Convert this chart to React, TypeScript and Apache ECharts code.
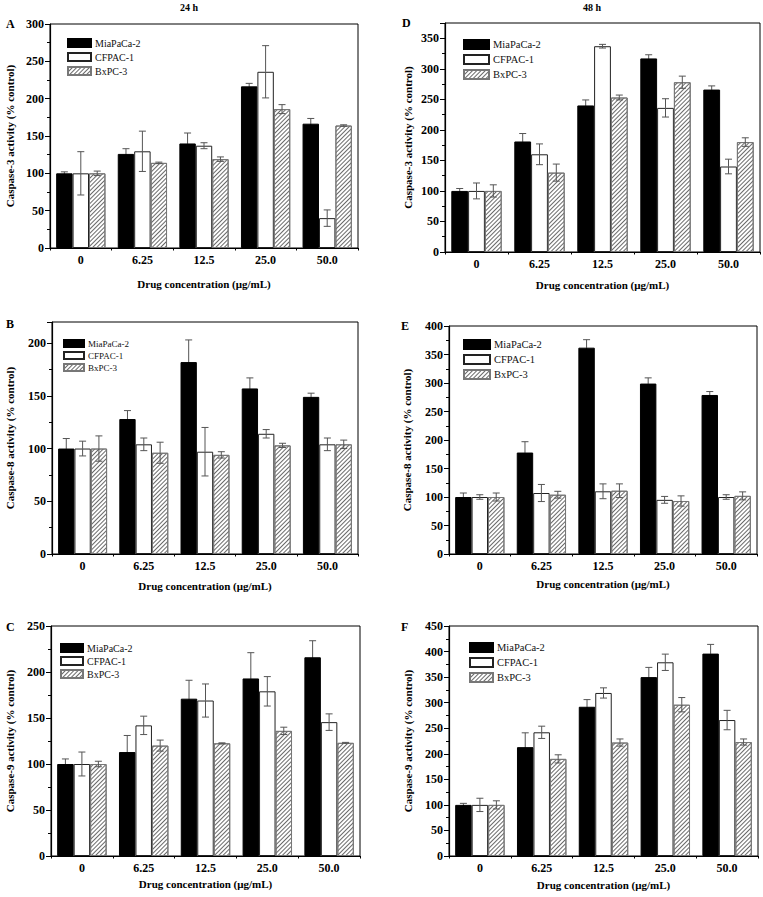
import React, { useEffect, useRef } from "react";
import * as echarts from "echarts";

const categories = ["0", "6.25", "12.5", "25.0", "50.0"];
const seriesNames = ["MiaPaCa-2", "CFPAC-1", "BxPC-3"];

// Panel A: Caspase-3, 24 h
const aMia = [100, 126, 140, 216.5, 166.5];
const aMiaErr = [2, 7, 14, 4, 7];
const aCf = [100, 129.5, 137, 236, 40];
const aCfErr = [29, 27, 4, 35, 11];
const aBx = [100, 114, 119, 186, 164];
const aBxErr = [3, 1, 3, 6, 1];

// Panel B: Caspase-8, 24 h
const bMia = [100, 128, 182, 157, 149];
const bMiaErr = [9.5, 8, 21, 10, 3.5];
const bCf = [100, 104, 97, 114, 104];
const bCfErr = [7, 6, 23, 4, 6];
const bBx = [100, 96, 94, 103, 104];
const bBxErr = [12, 10, 3, 2, 4];

// Panel C: Caspase-9, 24 h
const cMia = [100, 113, 171, 193, 216];
const cMiaErr = [5.5, 18, 20, 28, 18];
const cCf = [100, 142, 169, 179, 145.5];
const cCfErr = [13, 10, 18, 16, 9];
const cBx = [100, 120, 122.5, 136, 123];
const cBxErr = [3, 6, 0.5, 4, 0.5];

// Panel D: Caspase-3, 48 h
const dMia = [100, 181, 240, 317, 266];
const dMiaErr = [4, 13, 9, 6, 6];
const dCf = [100, 160, 337, 236, 140];
const dCfErr = [13, 17, 3, 15, 12];
const dBx = [100, 130, 253, 278, 180];
const dBxErr = [10, 14, 4, 10, 7];

// Panel E: Caspase-8, 48 h
const eMia = [100, 178, 362, 299, 279];
const eMiaErr = [7, 19, 14, 10, 6];
const eCf = [100, 107, 110, 95, 100];
const eCfErr = [4, 15, 13, 6, 4];
const eBx = [100, 104, 111, 93, 102];
const eBxErr = [7, 6, 12, 9, 7];

// Panel F: Caspase-9, 48 h
const fMia = [100, 213, 292, 350, 396];
const fMiaErr = [3, 28, 14, 19, 18];
const fCf = [100, 242, 319, 379, 266];
const fCfErr = [13, 12, 10, 16, 19];
const fBx = [100, 190, 222, 296, 223];
const fBxErr = [8, 8, 7, 14, 6];

const yMaxes = [300, 220, 250, 375, 400, 450];
const yNames = [
  "Caspase-3 activity (% control)",
  "Caspase-8 activity (% control)",
  "Caspase-9 activity (% control)",
  "Caspase-3 activity (% control)",
  "Caspase-8 activity (% control)",
  "Caspase-9 activity (% control)",
];
const xName = "Drug concentration (\u03bcg/mL)";
const panelLetters = ["A", "B", "C", "D", "E", "F"];
const timeTitles = ["24 h", "48 h"];

const panelData = [
  [[aMia, aMiaErr], [aCf, aCfErr], [aBx, aBxErr]],
  [[bMia, bMiaErr], [bCf, bCfErr], [bBx, bBxErr]],
  [[cMia, cMiaErr], [cCf, cCfErr], [cBx, cBxErr]],
  [[dMia, dMiaErr], [dCf, dCfErr], [dBx, dBxErr]],
  [[eMia, eMiaErr], [eCf, eCfErr], [eBx, eBxErr]],
  [[fMia, fMiaErr], [fCf, fCfErr], [fBx, fBxErr]],
];

// layout (pixels)
const layout = [
  { left: 50, top: 24, right: 358, bottom: 248, yGap: 35, xGap: 30, lg: { left: 67, top: 38, w: 23, h: 8, gap: 4, fs: 10 }, letter: [10, 25] },
  { left: 52, top: 322, right: 358, bottom: 554, yGap: 37, xGap: 26, lg: { left: 63, top: 339, w: 20, h: 7, gap: 3, fs: 9 }, letter: [10, 325] },
  { left: 51, top: 626, right: 360, bottom: 856, yGap: 36, xGap: 22, lg: { left: 60, top: 643, w: 22, h: 8, gap: 3, fs: 10 }, letter: [10, 628] },
  { left: 445, top: 23, right: 760, bottom: 252, yGap: 32, xGap: 27, lg: { left: 463, top: 39, w: 25, h: 9, gap: 4, fs: 10.5 }, letter: [406, 24] },
  { left: 449, top: 326, right: 757, bottom: 554, yGap: 37, xGap: 24, lg: { left: 463, top: 339, w: 26, h: 9, gap: 4, fs: 10.5 }, letter: [405, 327] },
  { left: 449, top: 626, right: 758, bottom: 856, yGap: 36, xGap: 23, lg: { left: 469, top: 642, w: 23, h: 9, gap: 4, fs: 10.5 }, letter: [405, 628] },
];

const FONT = "'Liberation Serif', 'Times New Roman', serif";

const barStyles = [
  { color: "#000", borderColor: "#000", borderWidth: 1 },
  { color: "#fff", borderColor: "#222", borderWidth: 1 },
  {
    color: "#fff",
    borderColor: "#777",
    borderWidth: 1,
    decal: {
      symbol: "rect",
      symbolSize: 1,
      color: "#6a6a6a",
      backgroundColor: "#fff",
      dashArrayX: [1, 0],
      dashArrayY: [1, 2],
      rotation: -Math.PI / 4,
    },
  },
];

function buildOption() {
  const grid: any[] = [];
  const xAxis: any[] = [];
  const yAxis: any[] = [];
  const series: any[] = [];
  const legend: any[] = [];
  const graphic: any[] = [];

  layout.forEach((L, p) => {
    grid.push({
      left: L.left,
      top: L.top,
      width: L.right - L.left,
      height: L.bottom - L.top,
      show: true,
      borderColor: "#000",
      borderWidth: 1,
      backgroundColor: "transparent",
    });
    xAxis.push({
      type: "category",
      gridIndex: p,
      data: categories,
      axisLine: { lineStyle: { color: "#000", width: 1.2 } },
      axisTick: { alignWithLabel: true, length: 4, lineStyle: { color: "#000" } },
      axisLabel: { color: "#000", fontFamily: FONT, fontWeight: "bold", fontSize: 12, margin: 6 },
      name: xName,
      nameLocation: "middle",
      nameGap: L.xGap,
      nameTextStyle: { color: "#000", fontFamily: FONT, fontWeight: "bold", fontSize: 11 },
      splitLine: { show: false },
    });
    xAxis.push({
      type: "value",
      gridIndex: p,
      min: 0,
      max: 5,
      interval: 1,
      position: "bottom",
      axisLine: { show: false },
      axisLabel: { show: false },
      axisTick: { show: true, length: 2.5, lineStyle: { color: "#000" } },
      splitLine: { show: false },
    });
    yAxis.push({
      type: "value",
      gridIndex: p,
      min: 0,
      max: yMaxes[p],
      interval: 50,
      axisLine: { show: true, lineStyle: { color: "#000", width: 1.2 } },
      axisTick: { show: true, length: 5, lineStyle: { color: "#000" } },
      minorTick: { show: true, splitNumber: 2, length: 3, lineStyle: { color: "#000" } },
      splitLine: { show: false },
      axisLabel: {
        color: "#000",
        fontFamily: FONT,
        fontWeight: "bold",
        fontSize: 12,
        margin: 6,
        showMaxLabel: yMaxes[p] % 50 === 0,
      },
      name: yNames[p],
      nameLocation: "middle",
      nameGap: L.yGap,
      nameRotate: 90,
      nameTextStyle: { color: "#000", fontFamily: FONT, fontWeight: "bold", fontSize: 11 },
    });

    const errData: any[] = [];
    panelData[p].forEach((pair, k) => {
      const vals = pair[0];
      const errs = pair[1];
      series.push({
        type: "bar",
        name: seriesNames[k],
        xAxisIndex: p * 2,
        yAxisIndex: p,
        data: vals,
        barGap: "0%",
        barCategoryGap: "20%",
        itemStyle: barStyles[k],
        emphasis: { disabled: true },
      });
      vals.forEach((v, i) => errData.push([i, v, errs[i], k]));
    });
    series.push({
      type: "custom",
      name: "err" + p,
      xAxisIndex: p * 2,
      yAxisIndex: p,
      z: 5,
      encode: { x: 0, y: 1 },
      data: errData,
      renderItem: (params: any, api: any) => {
        const cat = api.value(0);
        const v = api.value(1);
        const e = api.value(2);
        const k = api.value(3);
        const band = api.size([1, 0])[0];
        const bw = (band * 0.8) / 3;
        const c = api.coord([cat, v]);
        const x = c[0] + (k - 1) * bw;
        const yv = c[1];
        const yt = api.coord([cat, v + e])[1];
        const yb = api.coord([cat, Math.max(0, v - e)])[1];
        const cap = 3.5;
        const col = "#555";
        const lowCol = k === 0 ? "#000" : col;
        return {
          type: "group",
          children: [
            { type: "line", shape: { x1: x, y1: yt, x2: x, y2: yv }, style: { stroke: col, lineWidth: 1 } },
            { type: "line", shape: { x1: x, y1: yv, x2: x, y2: yb }, style: { stroke: lowCol, lineWidth: 1 } },
            { type: "line", shape: { x1: x - cap, y1: yt, x2: x + cap, y2: yt }, style: { stroke: col, lineWidth: 1 } },
            { type: "line", shape: { x1: x - cap, y1: yb, x2: x + cap, y2: yb }, style: { stroke: lowCol, lineWidth: 1 } },
          ],
        };
      },
    });

    legend.push({
      data: seriesNames,
      orient: "vertical",
      left: L.lg.left,
      top: L.lg.top,
      itemWidth: L.lg.w,
      itemHeight: L.lg.h,
      itemGap: L.lg.gap,
      padding: 0,
      icon: "rect",
      selectedMode: false,
      textStyle: { color: "#111", fontFamily: FONT, fontSize: L.lg.fs, padding: [0, 0, 0, -1] },
    });

    graphic.push({
      type: "text",
      left: L.letter[0] - 4,
      top: L.letter[1] - 7,
      style: { text: panelLetters[p], fill: "#000", font: `bold 12px ${FONT}` },
    });
  });

  graphic.push({
    type: "text",
    left: 180,
    top: 2,
    style: { text: timeTitles[0], fill: "#000", font: `bold 10px ${FONT}` },
  });
  graphic.push({
    type: "text",
    left: 583,
    top: 2,
    style: { text: timeTitles[1], fill: "#000", font: `bold 10px ${FONT}` },
  });

  return {
    animation: false,
    backgroundColor: "#fff",
    grid,
    xAxis,
    yAxis,
    series,
    legend,
    graphic,
  };
}

export default function App() {
  const ref = useRef<HTMLDivElement>(null);
  useEffect(() => {
    document.body.style.margin = "0";
    if (!ref.current) return;
    const chart = echarts.init(ref.current, undefined, { renderer: "svg" });
    chart.setOption(buildOption() as any);
    return () => chart.dispose();
  }, []);
  return <div ref={ref} style={{ width: 763, height: 897 }} />;
}
